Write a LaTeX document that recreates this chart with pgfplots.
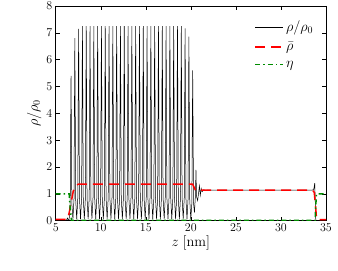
\documentclass[border=0pt]{standalone}
\usepackage{pgfplots}
\pgfplotsset{compat=1.18}
\definecolor{dgreen}{rgb}{0,0.55,0}
\begin{document}
\begin{tikzpicture}
\begin{axis}[
  scale only axis, width=270.3pt, height=214.7pt,
  xmin=5, xmax=35, ymin=0, ymax=8,
  xtick={5,10,...,35}, ytick={0,1,...,8},
  tick align=inside, major tick length=4pt,
  tick style={black, line width=0.5pt},
  tick label style={font=\large},
  axis line style={line width=0.9pt},
  xlabel={$z\;[\mathrm{nm}]$}, ylabel={$\rho/\rho_0$},
  label style={font=\Large},
  xlabel style={yshift=3pt}, ylabel style={yshift=-2pt},
  legend style={draw=none, fill=none, at={(0.972,0.95)}, anchor=north east, row sep=5pt, font=\Large},
  legend cell align=left,
  legend image code/.code={\draw[#1] (0pt,0pt) -- (28pt,0pt);},
  clip=true,
]
\addplot[black, line width=0.5pt] coordinates {
(5.0,0.0)(6.0,0.0)(6.2,0.02)(6.3,0.1)(6.4,0.03)(6.489,0.03)
(6.610,0.65)(6.655,3.24)(6.700,5.40)(6.745,3.24)(6.790,0.65)(6.911,0.05)
(7.032,0.82)(7.077,4.08)(7.122,6.80)(7.167,4.08)(7.212,0.82)(7.333,0.05)
(7.454,0.86)(7.499,4.29)(7.544,7.15)(7.589,4.29)(7.634,0.86)(7.755,0.05)
(7.876,0.87)(7.921,4.35)(7.966,7.25)(8.011,4.35)(8.056,0.87)(8.177,0.05)
(8.298,0.87)(8.343,4.35)(8.388,7.25)(8.433,4.35)(8.478,0.87)(8.599,0.05)
(8.720,0.87)(8.765,4.35)(8.810,7.25)(8.855,4.35)(8.900,0.87)(9.021,0.05)
(9.142,0.87)(9.187,4.35)(9.232,7.25)(9.277,4.35)(9.322,0.87)(9.443,0.05)
(9.564,0.87)(9.609,4.35)(9.654,7.25)(9.699,4.35)(9.744,0.87)(9.865,0.05)
(9.986,0.87)(10.031,4.35)(10.076,7.25)(10.121,4.35)(10.166,0.87)(10.287,0.05)
(10.408,0.87)(10.453,4.35)(10.498,7.25)(10.543,4.35)(10.588,0.87)(10.709,0.05)
(10.830,0.87)(10.875,4.35)(10.920,7.25)(10.965,4.35)(11.010,0.87)(11.131,0.05)
(11.252,0.87)(11.297,4.35)(11.342,7.25)(11.387,4.35)(11.432,0.87)(11.553,0.05)
(11.674,0.87)(11.719,4.35)(11.764,7.25)(11.809,4.35)(11.854,0.87)(11.975,0.05)
(12.096,0.87)(12.141,4.35)(12.186,7.25)(12.231,4.35)(12.276,0.87)(12.397,0.05)
(12.518,0.87)(12.563,4.35)(12.608,7.25)(12.653,4.35)(12.698,0.87)(12.819,0.05)
(12.940,0.87)(12.985,4.35)(13.030,7.25)(13.075,4.35)(13.120,0.87)(13.241,0.05)
(13.362,0.87)(13.407,4.35)(13.452,7.25)(13.497,4.35)(13.542,0.87)(13.663,0.05)
(13.784,0.87)(13.829,4.35)(13.874,7.25)(13.919,4.35)(13.964,0.87)(14.085,0.05)
(14.206,0.87)(14.251,4.35)(14.296,7.25)(14.341,4.35)(14.386,0.87)(14.507,0.05)
(14.628,0.87)(14.673,4.35)(14.718,7.25)(14.763,4.35)(14.808,0.87)(14.929,0.05)
(15.050,0.87)(15.095,4.35)(15.140,7.25)(15.185,4.35)(15.230,0.87)(15.351,0.05)
(15.472,0.87)(15.517,4.35)(15.562,7.25)(15.607,4.35)(15.652,0.87)(15.773,0.05)
(15.894,0.87)(15.939,4.35)(15.984,7.25)(16.029,4.35)(16.074,0.87)(16.195,0.05)
(16.316,0.87)(16.361,4.35)(16.406,7.25)(16.451,4.35)(16.496,0.87)(16.617,0.05)
(16.738,0.87)(16.783,4.35)(16.828,7.25)(16.873,4.35)(16.918,0.87)(17.039,0.05)
(17.160,0.87)(17.205,4.35)(17.250,7.25)(17.295,4.35)(17.340,0.87)(17.461,0.05)
(17.582,0.87)(17.627,4.35)(17.672,7.25)(17.717,4.35)(17.762,0.87)(17.883,0.05)
(18.004,0.87)(18.049,4.35)(18.094,7.25)(18.139,4.35)(18.184,0.87)(18.305,0.05)
(18.426,0.87)(18.471,4.35)(18.516,7.25)(18.561,4.35)(18.606,0.87)(18.727,0.05)
(18.848,0.87)(18.893,4.35)(18.938,7.25)(18.983,4.35)(19.028,0.87)(19.149,0.05)
(19.270,0.86)(19.315,4.30)(19.360,7.17)(19.405,4.30)(19.450,0.86)(19.571,0.05)
(19.692,0.82)(19.737,4.12)(19.782,6.86)(19.827,4.12)(19.872,0.82)(19.993,0.05)
(20.114,0.67)(20.159,3.36)(20.204,5.60)(20.249,3.36)(20.294,0.67)(20.40,0.3)
(20.50,0.9)(20.57,1.89)(20.63,0.9)(20.75,0.75)(20.85,1.0)(20.95,1.3)(21.05,0.95)
(21.15,1.2)(21.25,1.08)(21.4,1.15)(21.6,1.13)(22.0,1.14)(33.5,1.14)(33.65,1.18)
(33.75,1.40)(33.8,0.8)(33.85,0.1)(33.9,0.0)(35.0,0.0)
};
\addlegendentry{$\rho/\rho_0$}
\addplot[red, line width=1.5pt, dash pattern=on 10pt off 6pt] coordinates {
(5.0,0.05)(6.3,0.05)(6.5,0.3)(6.95,1.1)(7.3,1.32)(7.5,1.36)(20.2,1.36)(20.35,1.25)
(20.5,1.15)(20.8,1.12)(21.0,1.14)(33.5,1.14)(33.7,1.05)(33.85,0.5)(33.95,0.08)
(34.05,0.04)(35.0,0.04)
};
\addlegendentry{$\bar{\rho}$}
\addplot[dgreen, line width=1.5pt, dash pattern=on 5pt off 3pt on 1.5pt off 3pt] coordinates {
(5.0,1.0)(6.5,1.0)(6.6,0.5)(6.75,0.01)(33.8,0.01)(33.85,0.5)(33.95,1.0)(35.0,1.0)
};
\addlegendentry{$\eta$}
\end{axis}
\pgfresetboundingbox
\path ([shift={(-55.7pt,-50.3pt)}]current axis.south west) rectangle ([shift={(12pt,6pt)}]current axis.north east);
\end{tikzpicture}
\end{document}
